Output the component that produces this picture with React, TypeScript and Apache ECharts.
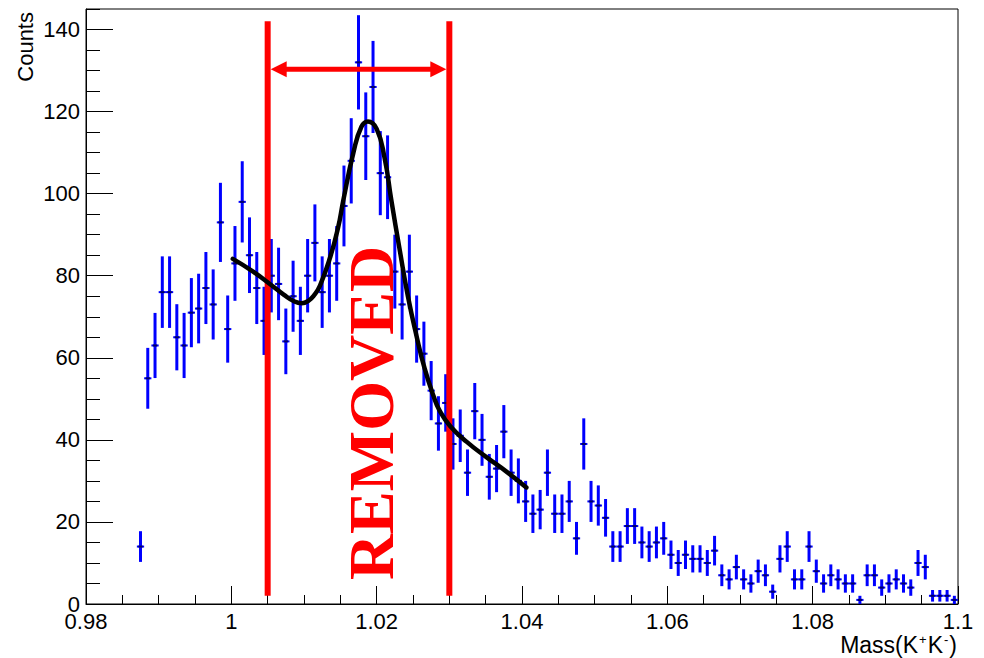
import React, { useEffect, useRef } from "react";
import * as echarts from "echarts";

// Histogram: 120 bins of width 0.001 GeV from 0.98 to 1.1 (null = empty bin)
const binStart = 0.98;
const binWidth = 0.001;
const counts: (number | null)[] = [
  null, null, null, null, null, null, null, 14, 55, 63,
  76, 76, 65, 63, 71, 72, 77, 73, 93, 67,
  83, 98, 85, 77, 69, 80, 78, 64, 75, 69,
  80, 88, 76, 80, 83, 97, 108, 132, 114, 126,
  105, 104, 81, 73, 81, 67, 61, 52, 44, 49,
  39, 41, 32, 47, 40, 31, 33, 42, 32, 30,
  25, 22, 23, 32, 22, 22, 25, 16, 39, 25,
  24, 21, 14, 14, 19, 19, 15, 14, 15, 16,
  12, 10, 12, 11, 11, 10, 13, 7, 6, 9,
  6, 5, 8, 7, 3, 11, 14, 6, 6, 14,
  8, 5, 7, 6, 5, 5, 1, 7, 7, 4,
  5, 6, 5, 4, 10, 9, 2, 2, 2, 1,
];

// Fit curve
const fitMass = [
  1.0002, 1.003, 1.0053, 1.0072, 1.0087, 1.0097, 1.0106, 1.0114, 1.0122, 1.0136,
  1.0147, 1.0154, 1.0168, 1.0179, 1.0188, 1.02, 1.0211, 1.022, 1.0232, 1.0243,
  1.0255, 1.0266, 1.0278, 1.0287, 1.0301, 1.0324, 1.0351, 1.0379, 1.0406,
];
const fitCounts = [
  84.1, 81.0, 78.0, 75.4, 73.7, 73.3, 73.9, 75.3, 77.6, 84.5,
  91.8, 98.3, 110, 116.3, 117.6, 115.8, 108.6, 98.6, 86, 75,
  65.2, 57.4, 50.8, 47, 43.4, 39.5, 35.8, 32.2, 28.4,
];

// Removed window markers
const removedWindow = [1.005, 1.03];
const markerBottom = 2;
const markerTop = 142;
const arrowLevel = 130.3;

const xMin = 0.98;
const xMax = 1.1;
const yMin = 0;
const yMax = 145;

const FONT = "'Liberation Sans', Arial, Helvetica, sans-serif";

export default function App() {
  const ref = useRef<HTMLDivElement>(null);

  useEffect(() => {
    const chart = echarts.init(ref.current!, null, { renderer: "svg" });

    const pointData: number[][] = [];
    counts.forEach((c, i) => {
      if (c !== null) pointData.push([binStart + binWidth * (i + 0.5), c]);
    });

    const option: any = {
      animation: false,
      backgroundColor: "#ffffff",
      grid: {
        left: 86,
        right: 26,
        top: 9,
        bottom: 54,
        show: true,
        borderColor: "#000",
        borderWidth: 1,
        backgroundColor: "transparent",
      },
      xAxis: [
        {
          type: "value",
          min: xMin,
          max: xMax,
          interval: 0.02,
          position: "bottom",
          axisLine: { show: true, onZero: false, lineStyle: { color: "#000", width: 1 } },
          axisTick: { show: true, inside: true, length: 18, lineStyle: { color: "#000", width: 1 } },
          minorTick: { show: true, splitNumber: 4, length: 9, lineStyle: { color: "#000", width: 1 } },
          axisLabel: {
            show: true,
            margin: 6,
            fontSize: 22,
            fontFamily: FONT,
            color: "#000",
            formatter: (v: number) => String(Number(v.toFixed(2))),
          },
          splitLine: { show: false },
          minorSplitLine: { show: false },
        },
      ],
      yAxis: [
        {
          type: "value",
          min: yMin,
          max: yMax,
          interval: 20,
          position: "left",
          axisLine: { show: true, onZero: false, lineStyle: { color: "#000", width: 1 } },
          axisTick: { show: true, inside: true, length: 27, lineStyle: { color: "#000", width: 1 } },
          axisLabel: {
            show: true,
            margin: 6,
            fontSize: 22,
            fontFamily: FONT,
            color: "#000",
            showMaxLabel: false,
          },
          splitLine: { show: false },
        },
        {
          type: "value",
          min: yMin,
          max: yMax,
          interval: 5,
          position: "left",
          axisLine: { show: false, onZero: false },
          axisTick: { show: true, inside: true, length: 14, lineStyle: { color: "#000", width: 1 } },
          axisLabel: { show: false },
          splitLine: { show: false },
        },
      ],
      series: [
        {
          type: "custom",
          name: "data",
          xAxisIndex: 0,
          yAxisIndex: 0,
          z: 2,
          data: pointData,
          renderItem: (params: any, api: any) => {
            const x = api.value(0);
            const v = api.value(1);
            const e = Math.sqrt(v);
            const top = api.coord([x, v + e]);
            const bot = api.coord([x, Math.max(v - e, 0)]);
            const left = api.coord([x - binWidth / 2, v]);
            const right = api.coord([x + binWidth / 2, v]);
            return {
              type: "group",
              children: [
                {
                  type: "line",
                  shape: { x1: top[0], y1: top[1], x2: bot[0], y2: bot[1] },
                  style: { stroke: "#0000ff", lineWidth: 3 },
                },
                {
                  type: "line",
                  shape: { x1: left[0], y1: left[1], x2: right[0], y2: right[1] },
                  style: { stroke: "#0000ff", lineWidth: 2 },
                },
                {
                  type: "rect",
                  shape: { x: left[0] + 1.5, y: left[1] - 1, width: right[0] - left[0] - 3, height: 2 },
                  style: { fill: "#000066" },
                },
              ],
            };
          },
        },
        {
          type: "custom",
          name: "markers",
          xAxisIndex: 0,
          yAxisIndex: 0,
          z: 3,
          data: [[removedWindow[0], removedWindow[1]]],
          renderItem: (params: any, api: any) => {
            const x1 = api.value(0);
            const x2 = api.value(1);
            const l0 = api.coord([x1, markerBottom]);
            const l1 = api.coord([x1, markerTop]);
            const r0 = api.coord([x2, markerBottom]);
            const r1 = api.coord([x2, markerTop]);
            const a0 = api.coord([x1, arrowLevel]);
            const a1 = api.coord([x2, arrowLevel]);
            const red = "#ff0000";
            const headLen = 16;
            const headHalf = 8;
            const tipL = a0[0] + 3;
            const tipR = a1[0] - 3;
            const y = a0[1];
            return {
              type: "group",
              children: [
                {
                  type: "line",
                  shape: { x1: l0[0], y1: l0[1], x2: l1[0], y2: l1[1] },
                  style: { stroke: red, lineWidth: 6 },
                },
                {
                  type: "line",
                  shape: { x1: r0[0], y1: r0[1], x2: r1[0], y2: r1[1] },
                  style: { stroke: red, lineWidth: 6 },
                },
                {
                  type: "line",
                  shape: { x1: tipL + headLen - 2, y1: y, x2: tipR - headLen + 2, y2: y },
                  style: { stroke: red, lineWidth: 5 },
                },
                {
                  type: "polygon",
                  shape: { points: [[tipL, y], [tipL + headLen, y - headHalf], [tipL + headLen, y + headHalf]] },
                  style: { fill: red },
                },
                {
                  type: "polygon",
                  shape: { points: [[tipR, y], [tipR - headLen, y - headHalf], [tipR - headLen, y + headHalf]] },
                  style: { fill: red },
                },
              ],
            };
          },
        },
        {
          type: "line",
          name: "fit",
          xAxisIndex: 0,
          yAxisIndex: 0,
          z: 5,
          data: fitMass.map((m, i) => [m, fitCounts[i]]),
          smooth: 0.5,
          symbol: "none",
          lineStyle: { color: "#000", width: 4.5, join: "round", cap: "round" },
        },
      ],
      graphic: [
        {
          type: "text",
          z: 4,
          x: 371,
          y: 413,
          rotation: Math.PI / 2,
          style: {
            text: "REMOVED",
            fontFamily: "'Liberation Serif', 'Times New Roman', serif",
            fontWeight: "bold",
            fontSize: 64,
            fill: "#ff0000",
            align: "center",
            verticalAlign: "middle",
            textAlign: "center",
            textVerticalAlign: "middle",
          },
        },
        {
          type: "text",
          z: 4,
          x: 25,
          y: 12,
          rotation: Math.PI / 2,
          style: {
            text: "Counts",
            fontFamily: FONT,
            fontSize: 22,
            fill: "#000",
            align: "right",
            verticalAlign: "middle",
            textAlign: "right",
            textVerticalAlign: "middle",
          },
        },
        {
          type: "text",
          z: 4,
          x: 957,
          y: 645,
          style: {
            text: "{a|Mass(K}{s|+}{a|K}{s|-}{a|)}",
            fill: "#000",
            align: "right",
            verticalAlign: "middle",
            textAlign: "right",
            textVerticalAlign: "middle",
            rich: {
              a: { fontFamily: FONT, fontSize: 23, fill: "#000", lineHeight: 24 },
              s: { fontFamily: FONT, fontSize: 13, fill: "#000", lineHeight: 24, verticalAlign: "top", padding: [0, 1, 0, 1] },
            },
          },
        },
      ],
    };

    chart.setOption(option);
    return () => chart.dispose();
  }, []);

  return (
    <div
      ref={ref}
      style={{ position: "absolute", left: 0, top: 0, width: 984, height: 658, background: "#fff" }}
    />
  );
}
